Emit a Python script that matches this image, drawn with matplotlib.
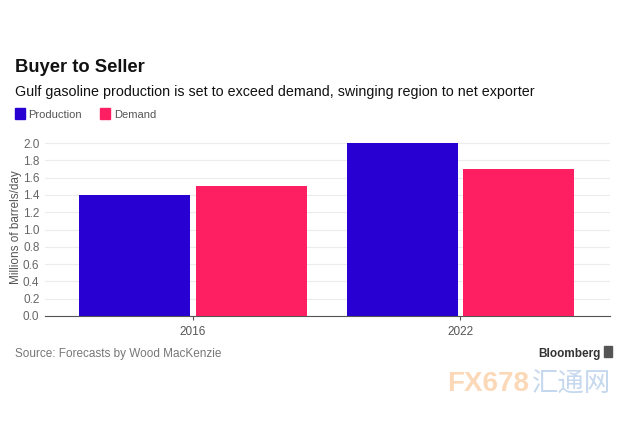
import matplotlib.pyplot as plt
import numpy as np

years = ['2016', '2022']
production = [1.4, 2.0]
demand = [1.5, 1.7]
yticks = [0.0, 0.2, 0.4, 0.6, 0.8, 1.0, 1.2, 1.4, 1.6, 1.8, 2.0]

blue = '#2800d2'
pink = '#fe1f63'

plt.rcParams['font.family'] = ['Liberation Sans', 'DejaVu Sans']

fig = plt.figure(figsize=(6.3, 4.23), dpi=100)
ax = fig.add_axes([0.0714, 0.253, 0.8966, 0.419])

x = np.arange(len(years))
w = 0.415
ax.bar(x - w / 2 - 0.01, production, w, color=blue, zorder=3)
ax.bar(x + w / 2 + 0.01, demand, w, color=pink, zorder=3)

ax.set_xlim(-0.554, 1.56)
ax.set_ylim(0, 2.05)
ax.set_yticks(yticks)
ax.set_yticklabels([f'{v:.1f}' for v in yticks])
ax.set_xticks(x)
ax.set_xticklabels(years)
ax.grid(axis='y', color='#ececec', lw=0.8, zorder=0)
for s in ['top', 'right', 'left']:
    ax.spines[s].set_visible(False)
ax.spines['bottom'].set_color('#555555')
ax.spines['bottom'].set_linewidth(0.8)
ax.tick_params(axis='y', length=0, labelsize=8.5, labelcolor='#666666', pad=4)
ax.tick_params(axis='x', length=3, color='#555555', labelsize=8.5, labelcolor='#555555', pad=4)
ax.set_ylabel('Millions of barrels/day', fontsize=8.5, color='#555555')
ax.yaxis.set_label_coords(-0.041, 0.5)

fig.text(0.024, 0.83, 'Buyer to Seller', fontsize=13.2, fontweight='bold', color='#111111')
fig.text(0.024, 0.772, 'Gulf gasoline production is set to exceed demand, swinging region to net exporter',
         fontsize=10.3, color='#111111')

# legend
fig.patches.append(plt.Rectangle((0.024, 0.718), 0.016, 0.026, transform=fig.transFigure, color=blue))
fig.text(0.045, 0.72, 'Production', fontsize=8, color='#555555')
fig.patches.append(plt.Rectangle((0.159, 0.718), 0.016, 0.026, transform=fig.transFigure, color=pink))
fig.text(0.181, 0.72, 'Demand', fontsize=8, color='#555555')

fig.text(0.024, 0.155, 'Source: Forecasts by Wood MacKenzie', fontsize=8.5, color='#777777')
fig.text(0.953, 0.155, 'Bloomberg', fontsize=8.5, fontweight='bold', color='#333333', ha='right')
fig.patches.append(plt.Rectangle((0.958, 0.155), 0.014, 0.026, transform=fig.transFigure, color='#555555'))

# watermark
fig.text(0.71, 0.075, 'FX678', fontsize=20, color='#fbd9b8', fontweight='bold')
fig.text(0.845, 0.075, '汇通网', fontsize=19, color='#c5d8ee',
         family=['Noto Sans CJK SC', 'DejaVu Sans'])

fig.savefig('out.png', dpi=100)
